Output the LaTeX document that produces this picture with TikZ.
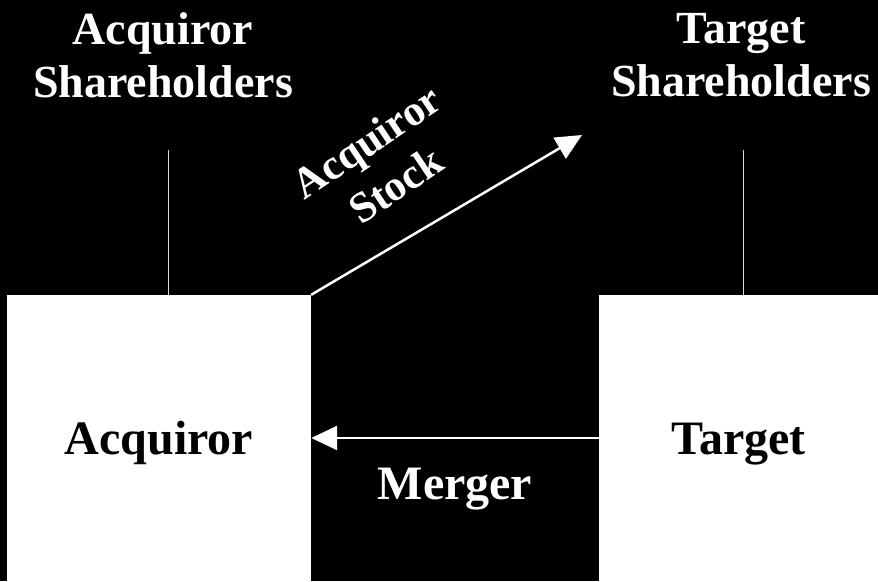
\documentclass[tikz,border=0pt]{standalone}
\usepackage{fontspec}
\setmainfont{Liberation Serif}
\usetikzlibrary{arrows.meta}

\begin{document}
\begin{tikzpicture}[x=1pt,y=1pt]
\fill[black] (0,0) rectangle (878,581);
\useasboundingbox (0,0) rectangle (878,581);

\begin{scope}[every node/.style={fill=white,text=black,inner sep=0pt,minimum height=286pt,
              text height=43pt,text depth=10pt,font=\fontsize{48}{53}\selectfont\bfseries}]
    \node[minimum width=304pt] (acq) at (159,143) {Acquiror};
    \node[minimum width=279pt] (tgt) at (738.5,143) {Target};
\end{scope}

\begin{scope}[every node/.style={text=white,align=center,font=\fontsize{46}{53}\selectfont\bfseries}]
    \node (acqsh) at (163,526) {Acquiror\\Shareholders};
    \node (tgtsh) at (741,526) {Target\\Shareholders};
    \node[font=\fontsize{48}{53}\selectfont\bfseries] (merger) at (455,92) {Merger};
    \node[rotate=34,font=\fontsize{43}{52}\selectfont\bfseries] (stock) at (381,418) {Acquiror\\Stock};
\end{scope}

\coordinate (acqtop) at (168,431);
\coordinate (tgttop) at (743,431);
\coordinate (tip) at (582,446);

\begin{scope}[>={Triangle[length=26pt,width=24pt]}]
    \draw[white!85!black,line width=1pt] (acqtop) -- (acqtop |- acq.north);
    \draw[white!85!black,line width=1pt] (tgttop) -- (tgttop |- tgt.north);
    \draw[white,line width=2.5pt,->] (acq.north east) -- (tip);
    \draw[white,line width=2.5pt,->] (tgt.west) -- (acq.east);
\end{scope}
\end{tikzpicture}
\end{document}
